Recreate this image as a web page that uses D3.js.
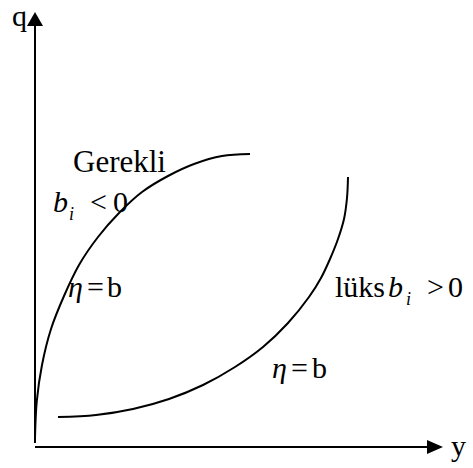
<!DOCTYPE html>
<html>
<head>
<meta charset="utf-8">
<script src="https://cdn.jsdelivr.net/npm/d3@7"></script>
<style>
  body { margin: 0; background: #fff; }
</style>
</head>
<body>
<div id="chart"></div>
<script>
// gerekli mal egrisi (b_i < 0)
const necX = [0, 0.045, 0.175, 0.4, 0.725, 1.1, 1.575, 2.1, 2.675, 3.325, 3.975, 4.675, 5.375]
const necY = [0.225, 1.15, 2.05, 2.95, 3.775, 4.55, 5.25, 5.85, 6.375, 6.775, 7.075, 7.275, 7.325]

// luks mal egrisi (b_i > 0)
const luxX = [0.575, 1.525, 2.45, 3.35, 4.2, 5.0, 5.7, 6.325, 6.85, 7.15, 7.375, 7.575, 7.725, 7.8, 7.825]
const luxY = [0.75, 0.8, 0.95, 1.2, 1.55, 2.0, 2.5, 3.1, 3.75, 4.225, 4.7, 5.2, 5.7, 6.225, 6.75]

const axisNames = ['q', 'y']

let fullWidth = 473
let fullHeight = 468
let serif = '"Liberation Serif", "Times New Roman", Times, "DejaVu Serif", serif'

var svg = d3.select('#chart').append('svg')
    .attr('width', fullWidth)
    .attr('height', fullHeight)
    .attr('font-family', serif)

var x = d3.scaleLinear().domain([0, 10]).range([35, 435])
var y = d3.scaleLinear().domain([0, 10]).range([447, 47])

// axes
let xEnd = 10.2, yEnd = 10.875

svg.append('line')
    .attr('x1', x(0)).attr('y1', y(0.1))
    .attr('x2', x(0)).attr('y2', y(yEnd) + 10)
    .attr('stroke', '#000').attr('stroke-width', 2)

svg.append('line')
    .attr('x1', x(0)).attr('y1', y(0))
    .attr('x2', x(xEnd) - 10).attr('y2', y(0))
    .attr('stroke', '#000').attr('stroke-width', 2)

// arrow heads
svg.append('path')
    .attr('d', `M${x(0)},${y(yEnd)} L${x(0) - 8},${y(yEnd) + 14} L${x(0) + 8},${y(yEnd) + 14} Z`)
    .attr('fill', '#000')

svg.append('path')
    .attr('d', `M${x(xEnd)},${y(0)} L${x(xEnd) - 16},${y(0) - 7} L${x(xEnd) - 16},${y(0) + 7} Z`)
    .attr('fill', '#000')

// curves
var line = d3.line()
    .x(d => x(d[0]))
    .y(d => y(d[1]))
    .curve(d3.curveCatmullRom)

svg.append('path')
    .datum(d3.zip(necX, necY))
    .attr('d', line)
    .attr('fill', 'none').attr('stroke', '#000').attr('stroke-width', 2)

svg.append('path')
    .datum(d3.zip(luxX, luxY))
    .attr('d', line)
    .attr('fill', 'none').attr('stroke', '#000').attr('stroke-width', 2)

// labels
function label(px, py, txt, size, italic) {
    svg.append('text')
        .attr('x', px).attr('y', py)
        .attr('font-family', serif)
        .attr('font-size', size)
        .attr('font-style', italic ? 'italic' : 'normal')
        .attr('fill', '#000')
        .text(txt)
}

label(12, 26, axisNames[0], 30)
label(451, 456, axisNames[1], 30)

label(73, 172, 'Gerekli', 31)
label(53, 212, 'b', 30, true)
label(69, 220, 'i', 18, true)
label(90, 212, '<', 30)
label(113, 212, '0', 30)

label(68, 297, 'η', 30, true)
label(87, 297, '=', 30)
label(107, 297, 'b', 30)

label(335, 297, 'lüks', 30)
label(388, 297, 'b', 30, true)
label(406, 305, 'i', 18, true)
label(427, 297, '>', 30)
label(448, 297, '0', 30)

label(272, 378, 'η', 30, true)
label(291, 378, '=', 30)
label(312, 378, 'b', 30)
</script>
</body>
</html>
